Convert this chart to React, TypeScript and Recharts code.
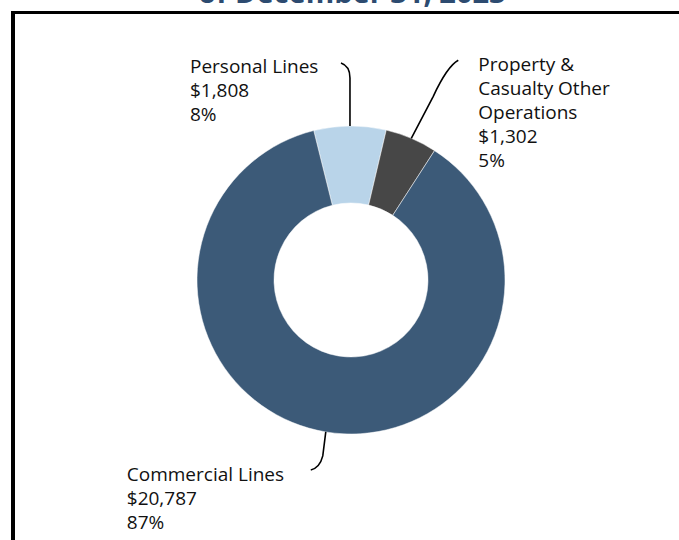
import { PieChart, Pie, Cell } from 'recharts';

// segment data, clockwise from the top
const segments = ['Personal Lines', 'Property & Casualty Other Operations', 'Commercial Lines'];
const labelLines = [['Personal Lines'], ['Property &', 'Casualty Other', 'Operations'], ['Commercial Lines']];
const amounts = [1808, 1302, 20787];
const colors = ['#b9d4e9', '#474747', '#3c5a78'];

const data = segments.map((name, i) => ({ name, value: amounts[i] }));

const FONT = '"Open Sans", sans-serif';
const LINE_H = 24;

// where each label block and its leader sit, relative to the slice's outer midpoint
const labelOffsets = [
    { tx: -160, ty: -60, path: (x: number, y: number) => `M${x},${y} L${x},${y - 48} Q${x},${y - 60} ${x - 9},${y - 63}` },
    { tx: 67, ty: -74, path: (x: number, y: number) => `M${x},${y} L${x + 22},${y - 42} Q${x + 36},${y - 72} ${x + 47},${y - 78}` },
    { tx: -199, ty: 42, path: (x: number, y: number) => `M${x},${y} L${x - 3},${y + 24} Q${x - 6},${y + 36} ${x - 15},${y + 38}` },
];

const RAD = Math.PI / 180;

const renderLabel = (props: any) => {
    const { cx, cy, midAngle, outerRadius, index, value, percent } = props;
    const x = cx + outerRadius * Math.cos(-midAngle * RAD);
    const y = cy + outerRadius * Math.sin(-midAngle * RAD);
    const off = labelOffsets[index];
    const lines = [...labelLines[index], `$${value.toLocaleString('en-US')}`, `${Math.round(percent * 100)}%`];
    return (
        <g>
            <path d={off.path(x, y)} stroke="#000" strokeWidth={1.6} fill="none" />
            {lines.map((t, i) => (
                <text
                    key={i}
                    x={x + off.tx}
                    y={y + off.ty + i * LINE_H}
                    dominantBaseline="central"
                    fontFamily={FONT}
                    fontSize={19}
                    fontWeight={500}
                    fill="#111"
                >
                    {t}
                </text>
            ))}
        </g>
    );
};

export default function App() {
    return (
        <div style={{ position: 'absolute', left: 0, top: 0, width: 679, height: 540, overflow: 'hidden', background: '#fff' }}>
            <div
                style={{
                    position: 'absolute',
                    left: 0,
                    top: -23,
                    width: 704,
                    textAlign: 'center',
                    fontFamily: FONT,
                    fontWeight: 700,
                    fontSize: 29,
                    color: '#2d4b70',
                    lineHeight: '30px',
                }}
            >
                of December 31, 2023
            </div>
            <div
                style={{
                    position: 'absolute',
                    left: 11,
                    top: 11,
                    width: 800,
                    height: 700,
                    borderLeft: '4px solid #000',
                    borderTop: '3px solid #000',
                }}
            />
            <div style={{ position: 'absolute', left: 0, top: 0 }}>
                <PieChart width={679} height={540} margin={{ top: 0, right: 0, bottom: 0, left: 0 }}>
                    <Pie
                        data={data}
                        dataKey="value"
                        cx={351}
                        cy={280}
                        innerRadius={77}
                        outerRadius={154}
                        startAngle={104}
                        endAngle={-256}
                        stroke="#fff"
                        strokeWidth={0.5}
                        label={renderLabel}
                        labelLine={false}
                        isAnimationActive={false}
                    >
                        {data.map((d, i) => (
                            <Cell key={d.name} fill={colors[i]} />
                        ))}
                    </Pie>
                </PieChart>
            </div>
        </div>
    );
}
